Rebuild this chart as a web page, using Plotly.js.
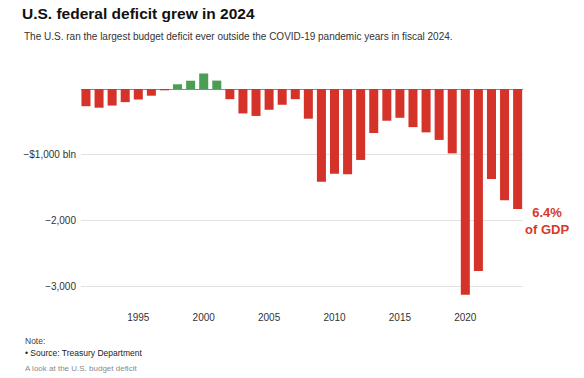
<!DOCTYPE html>
<html>
<head>
<meta charset="utf-8">
<script src="https://cdn.plot.ly/plotly-3.0.1.min.js"></script>
<style>html,body{margin:0;padding:0;background:#fff;}#chart{width:584px;height:378px;}</style>
</head>
<body>
<div id="chart"></div>
<script>
// Fiscal years
const years = [1991,1992,1993,1994,1995,1996,1997,1998,1999,2000,2001,2002,2003,2004,2005,2006,2007,2008,2009,2010,2011,2012,2013,2014,2015,2016,2017,2018,2019,2020,2021,2022,2023,2024];
// Federal budget surplus (+) / deficit (-), billions of dollars
const balance = [-262,-285,-252,-200,-160,-102,-20,72,126,236,128,-155,-372,-410,-316,-240,-155,-452,-1413,-1290,-1297,-1080,-670,-483,-438,-580,-660,-775,-980,-3132,-2772,-1368,-1693,-1828];
const xTickVals = [1995,2000,2005,2010,2015,2020];
const yTickVals = [-1000,-2000,-3000];
const yTickText = ['\u2212$1,000 bln','\u22122,000','\u22123,000'];

const RED = '#d5322a', GREEN = '#4c9e55';
const colors = balance.map(v => v >= 0 ? GREEN : RED);

const W = 584, H = 378;
const L = 81, R = 61, T = 60, B = 78;
const pw = W - L - R, ph = H - T - B;
const px = x => (x - L) / pw;
const py = y => (H - B - y) / ph;

const SANS = '"Liberation Sans", Arial, sans-serif';

const trace = {
  type: 'bar', x: years, y: balance,
  marker: {color: colors, line: {width: 0}},
  hoverinfo: 'skip'
};

const zeroPx = 89, perK = 65.7;

const layout = {
  width: W, height: H,
  margin: {l: L, r: R, t: T, b: B},
  paper_bgcolor: '#fff', plot_bgcolor: '#fff',
  showlegend: false,
  bargap: 0.31,
  font: {family: SANS, color: '#333', size: 10},
  title: {
    text: '<b>U.S. federal deficit grew in 2024</b>',
    xref: 'container', yref: 'container',
    x: 22 / W, xanchor: 'left', y: 1 - 14 / H, yanchor: 'middle',
    font: {family: SANS, size: 15.5, color: '#111'}
  },
  xaxis: {
    range: [1990.62, 2024.41],
    tickvals: xTickVals, ticktext: xTickVals.map(String),
    showgrid: false, zeroline: false, showline: false,
    ticks: 'outside', ticklen: 8, tickcolor: 'rgba(0,0,0,0)',
    tickfont: {family: SANS, size: 10, color: '#333'},
    fixedrange: true
  },
  yaxis: {
    range: [-(H - B - zeroPx) / perK * 1000, (zeroPx - T) / perK * 1000],
    tickvals: yTickVals, ticktext: yTickText,
    showgrid: true, gridcolor: '#e2e2e2', gridwidth: 1,
    zeroline: true, zerolinecolor: '#8a8a8a', zerolinewidth: 1,
    showline: false, ticks: '', ticklabelstandoff: 4,
    tickfont: {family: SANS, size: 10, color: '#333'},
    fixedrange: true
  },
  annotations: [
    {text: 'The U.S. ran the largest budget deficit ever outside the COVID-19 pandemic years in fiscal 2024.',
     xref: 'paper', yref: 'paper', x: px(22), y: py(37), xanchor: 'left', yanchor: 'middle',
     showarrow: false, font: {family: SANS, size: 10, color: '#333'}},
    {text: '<b>6.4%<br>of GDP</b>', xref: 'paper', yref: 'paper', x: px(547), y: py(221),
     xanchor: 'center', yanchor: 'middle', align: 'center', showarrow: false,
     font: {family: SANS, size: 13, color: '#d5392c'}},
    {text: 'Note:', xref: 'paper', yref: 'paper', x: px(23), y: py(341), xanchor: 'left', yanchor: 'middle',
     showarrow: false, font: {family: SANS, size: 8.5, color: '#444'}},
    {text: '\u2022 Source: Treasury Department', xref: 'paper', yref: 'paper', x: px(23), y: py(353), xanchor: 'left', yanchor: 'middle',
     showarrow: false, font: {family: SANS, size: 8.5, color: '#222'}},
    {text: 'A look at the U.S. budget deficit', xref: 'paper', yref: 'paper', x: px(23), y: py(368), xanchor: 'left', yanchor: 'middle',
     showarrow: false, font: {family: SANS, size: 8, color: '#8a8a8a'}}
  ]
};

Plotly.newPlot('chart', [trace], layout, {displayModeBar: false, staticPlot: true});
</script>
</body>
</html>
